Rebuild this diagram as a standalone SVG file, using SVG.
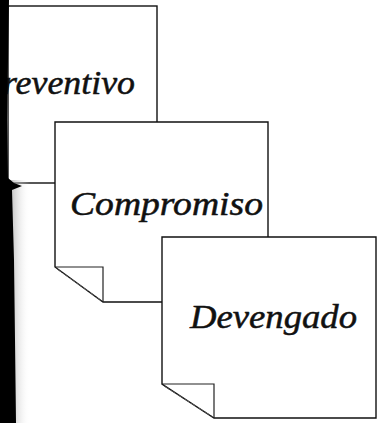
<svg xmlns="http://www.w3.org/2000/svg" width="380" height="423" viewBox="0 0 380 423">
  <style>
    .sheet { fill: #ffffff; stroke: #111111; stroke-width: 1.4; stroke-linejoin: miter; }
    .fold { fill: none; stroke: #222222; stroke-width: 1.2; }
    .diag { fill: none; stroke: #555555; stroke-width: 1; stroke-dasharray: 6 2; }
    .label { font-family: "Liberation Serif", "Times New Roman", serif; font-style: italic; font-size: 33px; fill: #111111; stroke: #111111; stroke-width: 0.5; }
  </style>
  <defs>
    <linearGradient id="shade" x1="0" y1="0" x2="1" y2="0">
      <stop offset="0" stop-color="#9a9a9a" stop-opacity="0.8"/>
      <stop offset="1" stop-color="#ffffff" stop-opacity="0"/>
    </linearGradient>
  </defs>
  <rect x="0" y="0" width="380" height="423" fill="#ffffff"/>

  <g id="preventivo">
    <rect class="sheet" x="8" y="6" width="149" height="177"/>
    <text class="label" x="3" y="94" textLength="132" lengthAdjust="spacingAndGlyphs">reventivo</text>
  </g>

  <g id="compromiso">
    <path class="sheet" d="M55,122 L268,122 L268,302 L103,302 L55,267 Z"/>
    <path class="fold" d="M55,267 L103,267 L103,302"/>
    <path class="diag" d="M57,269 L102,301"/>
    <text class="label" x="70" y="215" textLength="193" lengthAdjust="spacingAndGlyphs">Compromiso</text>
  </g>

  <g id="devengado">
    <path class="sheet" d="M162,237 L376,237 L376,418 L214,418 L162,384 Z"/>
    <path class="fold" d="M162,384 L214,384 L214,418"/>
    <path class="diag" d="M164,386 L213,417"/>
    <text class="label" x="190" y="328" textLength="167" lengthAdjust="spacingAndGlyphs">Devengado</text>
  </g>

  <g id="scan-edge">
    <rect x="8" y="180" width="22" height="243" fill="url(#shade)"/>
    <path d="M0,0 L9,0 L8,60 L7,120 L8,178 L14,183 L22,186 L12,190 L14,260 L15,340 L16,423 L0,423 Z" fill="#000000"/>
  </g>

  <g id="connectors"></g>
</svg>
